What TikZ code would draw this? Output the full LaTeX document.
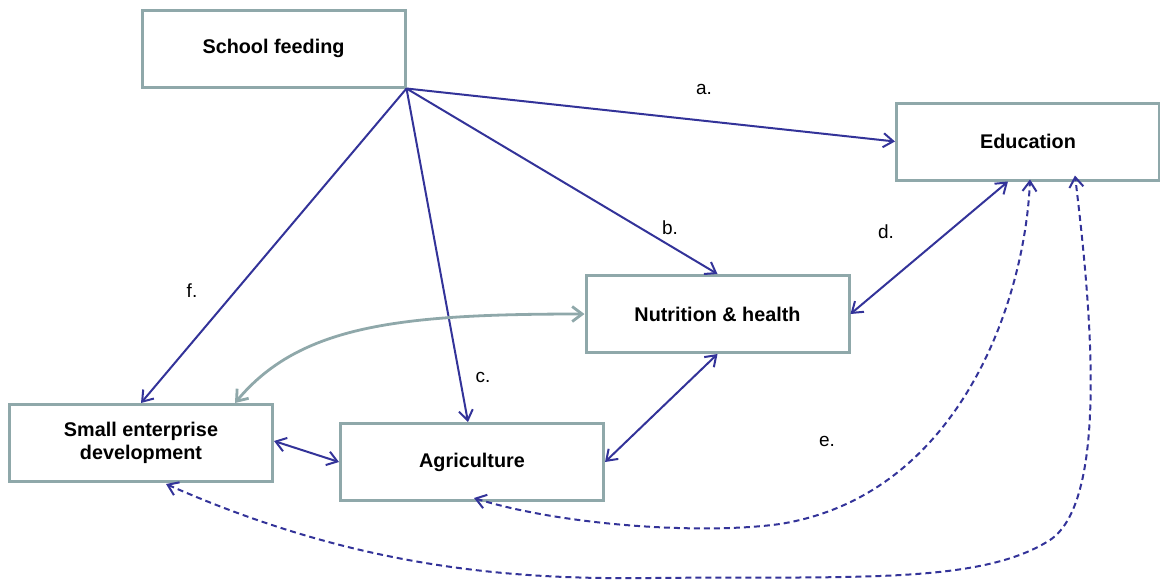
\documentclass[tikz,border=0pt]{standalone}
\usepackage{fontspec}
\setmainfont{Liberation Sans}
\usetikzlibrary{arrows.meta,calc}
\definecolor{boxc}{HTML}{8FA8AA}
\definecolor{arrc}{HTML}{333399}
\begin{document}
\begin{tikzpicture}[x=1pt,y=-1pt,
  box/.style={draw=boxc,line width=3pt,fill=white,minimum width=263pt,minimum height=77pt,inner sep=0pt,align=center,font=\fontsize{19.8}{23}\selectfont\bfseries},
  lab/.style={font=\fontsize{19}{21}\selectfont},
  link/.style={draw=arrc,line width=2pt,-{Straight Barb[length=10pt,width=14pt]}},
  blink/.style={draw=arrc,line width=2pt,{Straight Barb[length=10pt,width=14pt]}-{Straight Barb[length=10pt,width=14pt]}},
  glink/.style={draw=boxc,line width=2.8pt,{Straight Barb[length=10pt,width=15pt]}-{Straight Barb[length=10pt,width=15pt]}},
  dlink/.style={draw=arrc,line width=2pt,dash pattern=on 6pt off 4pt,{Straight Barb[length=10pt,width=14pt]}-{Straight Barb[length=10pt,width=14pt]}}]
\useasboundingbox (0,0) rectangle (1160,584);
\node[box] (SF) at (273.5,48.5) {School feeding};
\node[box] (Edu) at (1028,141.5) {Education};
\node[box] (Nut) at (717.5,314) {Nutrition \& health};
\node[box] (SED) at (141,443) {Small enterprise\\development};
\node[box] (Agr) at (472,462) {Agriculture};
\draw[link] (SF.south east) -- (Edu.west);
\draw[link] (SF.south east) -- (Nut.north);
\draw[link] (SF.south east) -- ([xshift=-4pt]Agr.north);
\draw[link] (SF.south east) -- (SED.north);
\draw[blink] ([xshift=-20pt]Edu.south) -- (Nut.east);
\draw[blink] (Nut.south) -- (Agr.east);
\draw[blink] ([yshift=2pt]SED.east) -- (Agr.west);
\draw[glink] ([xshift=94pt]SED.north) .. controls (300,325) and (400,314) .. (Nut.west);
\draw[dlink] ([shift={(2pt,4pt)}]Agr.south) .. controls (560,525) and (700,535) .. (780,524)
  .. controls (960,495) and (1025,300) .. ([shift={(2pt,2pt)}]Edu.south);
\draw[dlink] ([shift={(25pt,-1pt)}]SED.south) .. controls (350,565) and (500,580) .. (650,578)
  .. controls (850,576) and (980,585) .. (1050,540) .. controls (1110,500) and (1090,300) .. ([shift={(47pt,6pt)}]Edu.south);
\node[lab] (la) at (704,89) {a.};
\node[lab] (lb) at (670,228) {b.};
\node[lab] (lc) at (483,377) {c.};
\node[lab] (ld) at (886,232) {d.};
\node[lab] (le) at (827,441) {e.};
\node[lab] (lf) at (192,291) {f.};
\end{tikzpicture}
\end{document}
